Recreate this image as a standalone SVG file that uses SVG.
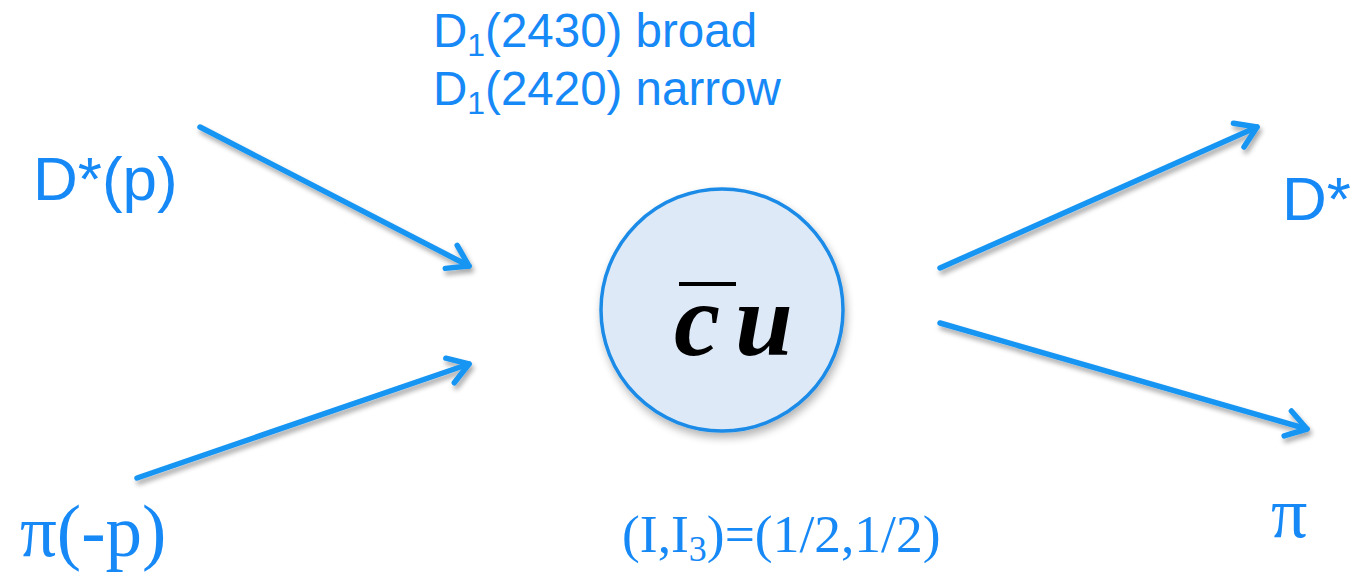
<svg xmlns="http://www.w3.org/2000/svg" width="1352" height="580" viewBox="0 0 1352 580">
<style>
.lbl{fill:#1689f7;font-family:"Liberation Sans",Arial,sans-serif}
.ser{fill:#1689f7;font-family:"Liberation Serif","Times New Roman",serif}
.arr{stroke:#1895f2;stroke-width:5.5;fill:none;stroke-linecap:round;marker-end:url(#head);filter:url(#sh)}
</style>
<defs>
<marker id="head" markerUnits="userSpaceOnUse" markerWidth="40" markerHeight="40" viewBox="-30 -20 40 40" refX="0" refY="0" orient="auto">
<path d="M-20,-13 L0,0 L-20,13" fill="none" stroke="#1895f2" stroke-width="5.5" stroke-linecap="round" stroke-linejoin="round"/>
</marker>
<filter id="sh" x="-20%" y="-20%" width="140%" height="140%">
<feGaussianBlur in="SourceAlpha" stdDeviation="2.5"/>
<feOffset dx="2" dy="4" result="b"/>
<feComponentTransfer><feFuncA type="linear" slope="0.35"/></feComponentTransfer>
<feMerge><feMergeNode/><feMergeNode in="SourceGraphic"/></feMerge>
</filter>
<filter id="csh" x="-20%" y="-20%" width="140%" height="140%">
<feGaussianBlur in="SourceAlpha" stdDeviation="4"/>
<feOffset dx="2" dy="5" result="b"/>
<feComponentTransfer><feFuncA type="linear" slope="0.3"/></feComponentTransfer>
<feMerge><feMergeNode/><feMergeNode in="SourceGraphic"/></feMerge>
</filter>
</defs>
<rect width="1352" height="580" fill="#ffffff"/>
<g id="connectors">
<line class="arr" x1="200" y1="127" x2="469" y2="266"/>
<line class="arr" x1="137" y1="478" x2="469" y2="364"/>
<line class="arr" x1="940" y1="268" x2="1257" y2="127"/>
<line class="arr" x1="940" y1="323" x2="1307" y2="429"/>
</g>
<g id="resonance">
<circle cx="722" cy="310" r="121" fill="#dde9f6" stroke="#1a8be8" stroke-width="3.5" filter="url(#csh)"/>
<rect x="679" y="282" width="57" height="4" fill="#000000"/>
<text y="355" font-family="'Liberation Serif','Times New Roman',serif" font-style="italic" font-weight="bold" font-size="104" fill="#000000"><tspan x="674">c</tspan><tspan x="735">u</tspan></text>
</g>
<g id="title">
<text class="lbl" x="433" y="47" font-size="47.5">D<tspan font-size="32" dy="9">1</tspan><tspan dy="-9">(2430) broad</tspan></text>
<text class="lbl" x="433" y="105" font-size="47.5">D<tspan font-size="32" dy="9">1</tspan><tspan dy="-9">(2420) narrow</tspan></text>
</g>
<g id="in-dstar"><text class="lbl" x="33" y="200" font-size="62">D*(p)</text></g>
<g id="in-pi"><text class="ser" x="20" y="556" font-size="73">π(-p)</text></g>
<g id="out-dstar"><text class="lbl" x="1282" y="220" font-size="62">D*</text></g>
<g id="out-pi"><text class="ser" x="1271" y="537" font-size="72">π</text></g>
<g id="isospin"><text class="ser" x="622" y="552" font-size="53.5">(I,I<tspan font-size="36" dy="9">3</tspan><tspan dy="-9">)=(1/2,1/2)</tspan></text></g>
</svg>
